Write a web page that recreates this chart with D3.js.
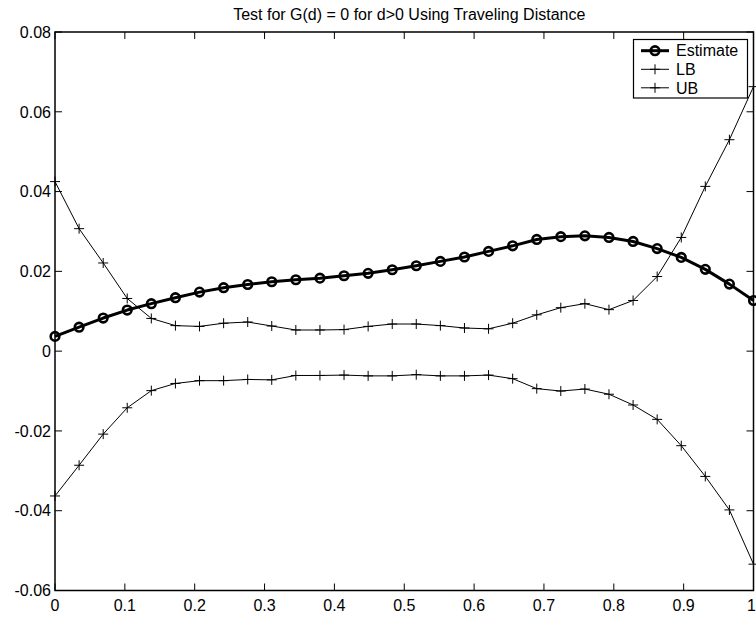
<!DOCTYPE html>
<html>
<head>
<meta charset="utf-8">
<script src="https://cdn.jsdelivr.net/npm/d3@7"></script>
<style>
  html, body { margin: 0; padding: 0; background: #fff; }
  svg { display: block; }
  text { font-family: "Liberation Sans", Arial, Helvetica, sans-serif; fill: #000; }
</style>
</head>
<body>
<svg id="chart" width="756" height="618"></svg>
<script>
// Distance grid d (30 equally spaced samples from 0 to 1)
const distances = [0, 0.0345, 0.0690, 0.1034, 0.1379, 0.1724, 0.2069, 0.2414, 0.2759, 0.3103,
  0.3448, 0.3793, 0.4138, 0.4483, 0.4828, 0.5172, 0.5517, 0.5862, 0.6207, 0.6552,
  0.6897, 0.7241, 0.7586, 0.7931, 0.8276, 0.8621, 0.8966, 0.9310, 0.9655, 1];

// Estimated G(d)
const estimate = [0.0037, 0.0060, 0.0083, 0.0103, 0.0119, 0.0134, 0.0148, 0.0159, 0.0167, 0.0174,
  0.0179, 0.0183, 0.0189, 0.0195, 0.0204, 0.0214, 0.0225, 0.0236, 0.0250, 0.0264,
  0.0280, 0.0287, 0.0289, 0.0285, 0.0275, 0.0257, 0.0235, 0.0205, 0.0168, 0.0127];

// Lower envelope
const lowerBound = [-0.0363, -0.0286, -0.0208, -0.0142, -0.0099, -0.0081, -0.0074, -0.0074, -0.0071, -0.0072,
  -0.0061, -0.0061, -0.0060, -0.0062, -0.0062, -0.0059, -0.0062, -0.0062, -0.0060, -0.0069,
  -0.0094, -0.0100, -0.0095, -0.0108, -0.0135, -0.0171, -0.0237, -0.0314, -0.0398, -0.0534];

// Upper envelope
const upperBound = [0.0425, 0.0307, 0.0221, 0.0132, 0.0082, 0.0064, 0.0062, 0.0070, 0.0073, 0.0063,
  0.0053, 0.0053, 0.0054, 0.0062, 0.0068, 0.0068, 0.0064, 0.0058, 0.0056, 0.0070,
  0.0091, 0.0109, 0.0119, 0.0104, 0.0127, 0.0187, 0.0285, 0.0413, 0.0530, 0.0663];

const xTicks = [0, 0.1, 0.2, 0.3, 0.4, 0.5, 0.6, 0.7, 0.8, 0.9, 1];
const yTicks = [-0.06, -0.04, -0.02, 0, 0.02, 0.04, 0.06, 0.08];
const xTickLabels = ["0", "0.1", "0.2", "0.3", "0.4", "0.5", "0.6", "0.7", "0.8", "0.9", "1"];
const yTickLabels = ["-0.06", "-0.04", "-0.02", "0", "0.02", "0.04", "0.06", "0.08"];

const titleText = "Test for G(d) = 0 for d>0 Using Traveling Distance";
const legendLabels = ["Estimate", "LB", "UB"];

const svg = d3.select("#chart");
const margin = { left: 55, right: 2.5, top: 32, bottom: 27.5 };
const W = 756, H = 618;
const plotW = W - margin.left - margin.right;
const plotH = H - margin.top - margin.bottom;

const x = d3.scaleLinear().domain([0, 1]).range([margin.left, margin.left + plotW]);
const y = d3.scaleLinear().domain([-0.06, 0.08]).range([margin.top + plotH, margin.top]);

const fontSize = 16;
const tickLen = 7;

// Tick marks on all four sides (pointing inward)
const ticksG = svg.append("g").attr("stroke", "#000").attr("stroke-width", 1);
xTicks.forEach(t => {
  ticksG.append("line").attr("x1", x(t)).attr("x2", x(t))
    .attr("y1", y(-0.06)).attr("y2", y(-0.06) - tickLen);
  ticksG.append("line").attr("x1", x(t)).attr("x2", x(t))
    .attr("y1", y(0.08)).attr("y2", y(0.08) + tickLen);
});
yTicks.forEach(t => {
  ticksG.append("line").attr("x1", x(0)).attr("x2", x(0) + tickLen)
    .attr("y1", y(t)).attr("y2", y(t));
  ticksG.append("line").attr("x1", x(1)).attr("x2", x(1) - tickLen)
    .attr("y1", y(t)).attr("y2", y(t));
});

// Axes frame
svg.append("rect")
  .attr("x", x(0)).attr("y", y(0.08))
  .attr("width", x(1) - x(0)).attr("height", y(-0.06) - y(0.08))
  .attr("fill", "none").attr("stroke", "#000").attr("stroke-width", 1.5);

// Tick labels (the last one is kept inside the canvas edge)
svg.append("g").selectAll("text").data(xTicks).join("text")
  .attr("x", (d, i) => i === xTicks.length - 1 ? W : x(d))
  .attr("y", y(-0.06) + 20)
  .attr("text-anchor", (d, i) => i === xTicks.length - 1 ? "end" : "middle")
  .attr("font-size", fontSize)
  .text((d, i) => xTickLabels[i]);

svg.append("g").selectAll("text").data(yTicks).join("text")
  .attr("x", x(0) - 4).attr("y", d => y(d))
  .attr("dy", "0.36em")
  .attr("text-anchor", "end").attr("font-size", fontSize)
  .text((d, i) => yTickLabels[i]);

// Title
svg.append("text")
  .attr("x", (x(0) + x(1)) / 2 + 5).attr("y", 20)
  .attr("text-anchor", "middle").attr("font-size", fontSize)
  .text(titleText);

// Series
const line = d3.line().x(d => x(d[0])).y(d => y(d[1]));
const zip = vals => distances.map((d, i) => [d, vals[i]]);

const plusPath = s => `M${-s},0H${s}M0,${-s}V${s}`;

function drawPlusSeries(vals) {
  const g = svg.append("g");
  g.append("path").datum(zip(vals)).attr("d", line)
    .attr("fill", "none").attr("stroke", "#000").attr("stroke-width", 1);
  g.selectAll("path.m").data(zip(vals)).join("path").attr("class", "m")
    .attr("transform", d => `translate(${x(d[0])},${y(d[1])})`)
    .attr("d", plusPath(5))
    .attr("stroke", "#000").attr("stroke-width", 1).attr("fill", "none");
}

drawPlusSeries(lowerBound);
drawPlusSeries(upperBound);

const estG = svg.append("g");
estG.append("path").datum(zip(estimate)).attr("d", line)
  .attr("fill", "none").attr("stroke", "#000").attr("stroke-width", 3)
  .attr("stroke-linejoin", "round");
estG.selectAll("circle").data(zip(estimate)).join("circle")
  .attr("cx", d => x(d[0])).attr("cy", d => y(d[1])).attr("r", 4.3)
  .attr("fill", "none").attr("stroke", "#000").attr("stroke-width", 2.6);

// Legend
const lg = svg.append("g");
const boxX = 633.5, boxY = 39.5, boxW = 114, boxH = 58.5;
lg.append("rect").attr("x", boxX).attr("y", boxY).attr("width", boxW).attr("height", boxH)
  .attr("fill", "#fff").attr("stroke", "#000").attr("stroke-width", 1.2);
const rowY = [50.7, 69.3, 87.8];
const lx0 = 641, lx1 = 669, lxm = (lx0 + lx1) / 2;
legendLabels.forEach((lab, i) => {
  const thick = i === 0;
  lg.append("line").attr("x1", lx0).attr("x2", lx1).attr("y1", rowY[i]).attr("y2", rowY[i])
    .attr("stroke", "#000").attr("stroke-width", thick ? 3 : 1);
  if (thick) {
    lg.append("circle").attr("cx", lxm).attr("cy", rowY[i]).attr("r", 4.3)
      .attr("fill", "none").attr("stroke", "#000").attr("stroke-width", 2.6);
  } else {
    lg.append("path").attr("transform", `translate(${lxm},${rowY[i]})`)
      .attr("d", plusPath(5)).attr("stroke", "#000").attr("stroke-width", 1);
  }
  lg.append("text").attr("x", 676).attr("y", rowY[i]).attr("dy", "0.36em")
    .attr("font-size", fontSize).text(lab);
});
</script>
</body>
</html>
